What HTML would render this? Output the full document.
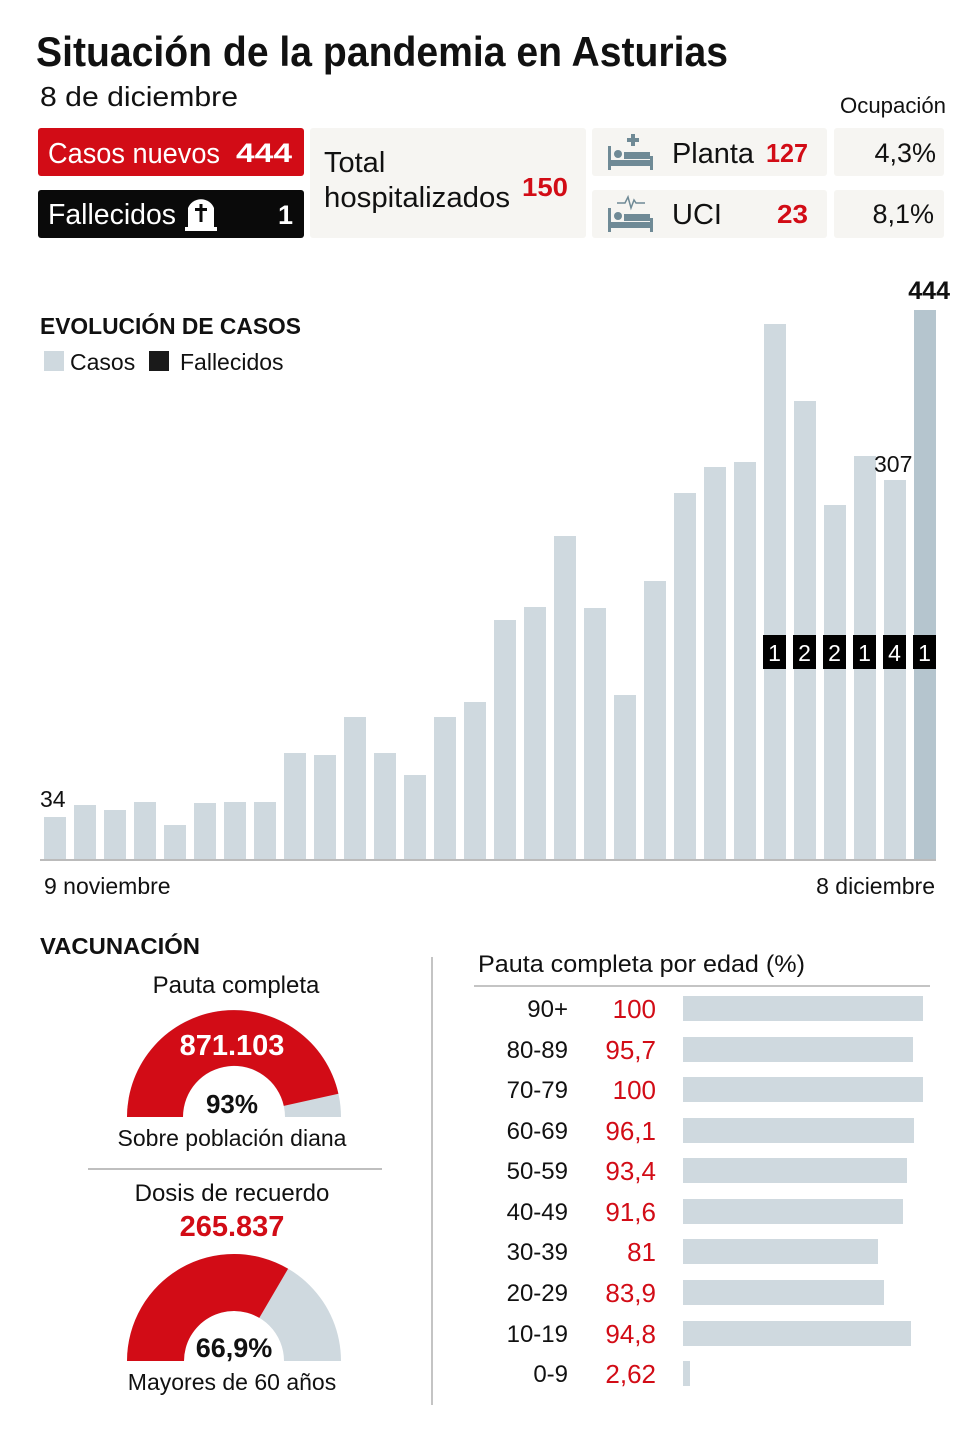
<!DOCTYPE html>
<html><head><meta charset="utf-8"><style>
body{margin:0;background:#fff;}
svg{display:block;}
text{font-family:"Liberation Sans",sans-serif;}
.n{font-family:"Liberation Sans Narrow","Liberation Sans",sans-serif;}
</style></head><body>
<svg width="980" height="1430" viewBox="0 0 980 1430" xmlns="http://www.w3.org/2000/svg">
<rect width="980" height="1430" fill="#fff"/>
<text x="36" y="66" font-size="42" font-weight="bold" textLength="692" lengthAdjust="spacingAndGlyphs" fill="#111">Situación de la pandemia en Asturias</text>
<text x="40" y="106" font-size="28" fill="#111" textLength="198" lengthAdjust="spacingAndGlyphs">8 de diciembre</text>
<text x="840" y="113" font-size="22" fill="#111" textLength="106" lengthAdjust="spacingAndGlyphs">Ocupación</text>

<rect x="38" y="128" width="266" height="48" rx="3" fill="#d20c16"/>
<text class="n" x="48" y="163" font-size="29" fill="#fff" textLength="172" lengthAdjust="spacingAndGlyphs">Casos nuevos</text>
<text x="236" y="162" font-size="27" font-weight="bold" fill="#fff" textLength="56" lengthAdjust="spacingAndGlyphs">444</text>
<rect x="38" y="190" width="266" height="48" rx="3" fill="#0a0a0a"/>
<text class="n" x="48" y="224" font-size="29" fill="#fff" textLength="128" lengthAdjust="spacingAndGlyphs">Fallecidos</text>
<path d="M188,229 L188,208 A14,14 0 0 1 214,208 L214,229 Z" fill="#fff"/>
<rect x="185" y="227" width="32" height="4" fill="#fff"/>
<rect x="199.5" y="204" width="3" height="18" fill="#0a0a0a"/><rect x="195" y="208" width="12" height="3" fill="#0a0a0a"/>
<text x="278" y="224" font-size="27" font-weight="bold" fill="#fff">1</text>

<rect x="310" y="128" width="276" height="110" rx="3" fill="#f6f5f2"/>
<text class="n" x="324" y="172" font-size="29" fill="#111">Total</text>
<text class="n" x="324" y="207" font-size="29" fill="#111" textLength="186" lengthAdjust="spacingAndGlyphs">hospitalizados</text>
<text x="522" y="196" font-size="26" font-weight="bold" fill="#d20c16" textLength="46" lengthAdjust="spacingAndGlyphs">150</text>

<rect x="592" y="128" width="235" height="48" rx="3" fill="#f6f5f2"/>
<rect x="592" y="190" width="235" height="48" rx="3" fill="#f6f5f2"/>
<rect x="834" y="128" width="110" height="48" rx="3" fill="#f6f5f2"/>
<rect x="834" y="190" width="110" height="48" rx="3" fill="#f6f5f2"/>
<g fill="#6f8a96">
<rect x="608" y="146" width="3" height="24"/><rect x="650" y="156" width="3" height="14"/><rect x="608" y="160" width="45" height="6"/><circle cx="618" cy="154" r="4"/><rect x="624" y="152" width="26" height="7"/>
<rect x="631" y="134" width="4" height="12"/><rect x="627" y="138" width="12" height="4"/>
<rect x="608" y="208" width="3" height="24"/><rect x="650" y="218" width="3" height="14"/><rect x="608" y="222" width="45" height="6"/><circle cx="618" cy="216" r="4"/><rect x="624" y="214" width="26" height="7"/>
</g>
<polyline points="617,203 625,203 628,197 631,208 634,200 636,203 645,203" fill="none" stroke="#6f8a96" stroke-width="1.5"/>
<text class="n" x="672" y="163" font-size="29" fill="#111" textLength="82" lengthAdjust="spacingAndGlyphs">Planta</text>
<text x="766" y="162" font-size="26" font-weight="bold" fill="#d20c16" textLength="42" lengthAdjust="spacingAndGlyphs">127</text>
<text class="n" x="672" y="224" font-size="29" fill="#111">UCI</text>
<text x="777" y="223" font-size="26" font-weight="bold" fill="#d20c16" textLength="31" lengthAdjust="spacingAndGlyphs">23</text>
<text x="936" y="162" font-size="27" fill="#111" text-anchor="end">4,3%</text>
<text x="934" y="223" font-size="27" fill="#111" text-anchor="end">8,1%</text>

<text x="40" y="334" font-size="23" font-weight="bold" fill="#111" textLength="261" lengthAdjust="spacingAndGlyphs">EVOLUCIÓN DE CASOS</text>
<rect x="44" y="351" width="20" height="20" fill="#cfd9df"/>
<text x="70" y="370" font-size="23" fill="#111">Casos</text>
<rect x="149" y="351" width="20" height="20" fill="#1a1a1a"/>
<text x="180" y="370" font-size="23" fill="#111">Fallecidos</text>

<g fill="#cfd9df">
<rect x="44" y="817" width="22" height="42"/><rect x="74" y="805" width="22" height="54"/><rect x="104" y="810" width="22" height="49"/><rect x="134" y="802" width="22" height="57"/><rect x="164" y="825" width="22" height="34"/><rect x="194" y="803" width="22" height="56"/><rect x="224" y="802" width="22" height="57"/><rect x="254" y="802" width="22" height="57"/><rect x="284" y="753" width="22" height="106"/><rect x="314" y="755" width="22" height="104"/><rect x="344" y="717" width="22" height="142"/><rect x="374" y="753" width="22" height="106"/><rect x="404" y="775" width="22" height="84"/><rect x="434" y="717" width="22" height="142"/><rect x="464" y="702" width="22" height="157"/><rect x="494" y="620" width="22" height="239"/><rect x="524" y="607" width="22" height="252"/><rect x="554" y="536" width="22" height="323"/><rect x="584" y="608" width="22" height="251"/><rect x="614" y="695" width="22" height="164"/><rect x="644" y="581" width="22" height="278"/><rect x="674" y="493" width="22" height="366"/><rect x="704" y="467" width="22" height="392"/><rect x="734" y="462" width="22" height="397"/><rect x="764" y="324" width="22" height="535"/><rect x="794" y="401" width="22" height="458"/><rect x="824" y="505" width="22" height="354"/><rect x="854" y="456" width="22" height="403"/><rect x="884" y="480" width="22" height="379"/>
</g>
<rect x="914" y="310" width="22" height="549" fill="#b5c5ce"/>
<line x1="40" y1="860" x2="936" y2="860" stroke="#777" stroke-width="1"/>
<g fill="#000"><rect x="763" y="635" width="23" height="34"/><rect x="793" y="635" width="23" height="34"/><rect x="823" y="635" width="23" height="34"/><rect x="853" y="635" width="23" height="34"/><rect x="883" y="635" width="23" height="34"/><rect x="913" y="635" width="23" height="34"/></g>
<g fill="#fff" font-size="23" text-anchor="middle"><text x="774.5" y="661">1</text><text x="804.5" y="661">2</text><text x="834.5" y="661">2</text><text x="864.5" y="661">1</text><text x="894.5" y="661">4</text><text x="924.5" y="661">1</text></g>
<text x="40" y="807" font-size="23" fill="#111">34</text>
<text x="874" y="472" font-size="23" fill="#111">307</text>
<text x="950" y="299" font-size="25" font-weight="bold" fill="#111" text-anchor="end">444</text>
<text x="44" y="894" font-size="23" fill="#111">9 noviembre</text>
<text x="935" y="894" font-size="23" fill="#111" text-anchor="end">8 diciembre</text>

<text x="40" y="954" font-size="23" font-weight="bold" fill="#111" textLength="160" lengthAdjust="spacingAndGlyphs">VACUNACIÓN</text>
<text x="236" y="993" font-size="24" fill="#111" text-anchor="middle">Pauta completa</text>
<path d="M127,1117 A107,107 0 0 1 341,1117 L285,1117 A51,51 0 0 0 183,1117 Z" fill="#cfd9df"/>
<path d="M127,1117 A107,107 0 0 1 338.4,1093.7 L283.8,1105.9 A51,51 0 0 0 183,1117 Z" fill="#d20c16"/>
<text x="232" y="1055" font-size="29" font-weight="bold" fill="#fff" text-anchor="middle">871.103</text>
<text x="232" y="1113" font-size="26" font-weight="bold" fill="#111" text-anchor="middle">93%</text>
<text x="232" y="1146" font-size="23" fill="#111" text-anchor="middle">Sobre población diana</text>
<line x1="88" y1="1169" x2="382" y2="1169" stroke="#aaa" stroke-width="1.5"/>
<text x="232" y="1201" font-size="24" fill="#111" text-anchor="middle">Dosis de recuerdo</text>
<text x="232" y="1236" font-size="29" font-weight="bold" fill="#d20c16" text-anchor="middle">265.837</text>
<path d="M127,1361 A107,107 0 0 1 341,1361 L284,1361 A50,50 0 0 0 184,1361 Z" fill="#cfd9df"/>
<path d="M127,1361 A107,107 0 0 1 288.1,1268.7 L259.3,1317.9 A50,50 0 0 0 184,1361 Z" fill="#d20c16"/>
<text x="234" y="1357" font-size="27" font-weight="bold" fill="#111" text-anchor="middle">66,9%</text>
<text x="232" y="1390" font-size="23" fill="#111" text-anchor="middle">Mayores de 60 años</text>

<line x1="432" y1="957" x2="432" y2="1405" stroke="#888" stroke-width="1"/>
<text x="478" y="972" font-size="24" fill="#111" textLength="327" lengthAdjust="spacingAndGlyphs">Pauta completa por edad (%)</text>
<line x1="474" y1="986" x2="930" y2="986" stroke="#888" stroke-width="1"/>
<g font-size="24" fill="#111" text-anchor="end">
<text x="568" y="1017">90+</text><text x="568" y="1058">80-89</text><text x="568" y="1098">70-79</text><text x="568" y="1139">60-69</text><text x="568" y="1179">50-59</text><text x="568" y="1220">40-49</text><text x="568" y="1260">30-39</text><text x="568" y="1301">20-29</text><text x="568" y="1342">10-19</text><text x="568" y="1382">0-9</text>
</g>
<g font-size="26" fill="#d20c16" text-anchor="end">
<text x="656" y="1018">100</text><text x="656" y="1059">95,7</text><text x="656" y="1099">100</text><text x="656" y="1140">96,1</text><text x="656" y="1180">93,4</text><text x="656" y="1221">91,6</text><text x="656" y="1261">81</text><text x="656" y="1302">83,9</text><text x="656" y="1343">94,8</text><text x="656" y="1383">2,62</text>
</g>
<g fill="#cfd9df">
<rect x="683" y="996" width="240" height="25"/><rect x="683" y="1037" width="230" height="25"/><rect x="683" y="1077" width="240" height="25"/><rect x="683" y="1118" width="231" height="25"/><rect x="683" y="1158" width="224" height="25"/><rect x="683" y="1199" width="220" height="25"/><rect x="683" y="1239" width="195" height="25"/><rect x="683" y="1280" width="201" height="25"/><rect x="683" y="1321" width="228" height="25"/><rect x="683" y="1361" width="7" height="25"/>
</g>
</svg>
</body></html>
